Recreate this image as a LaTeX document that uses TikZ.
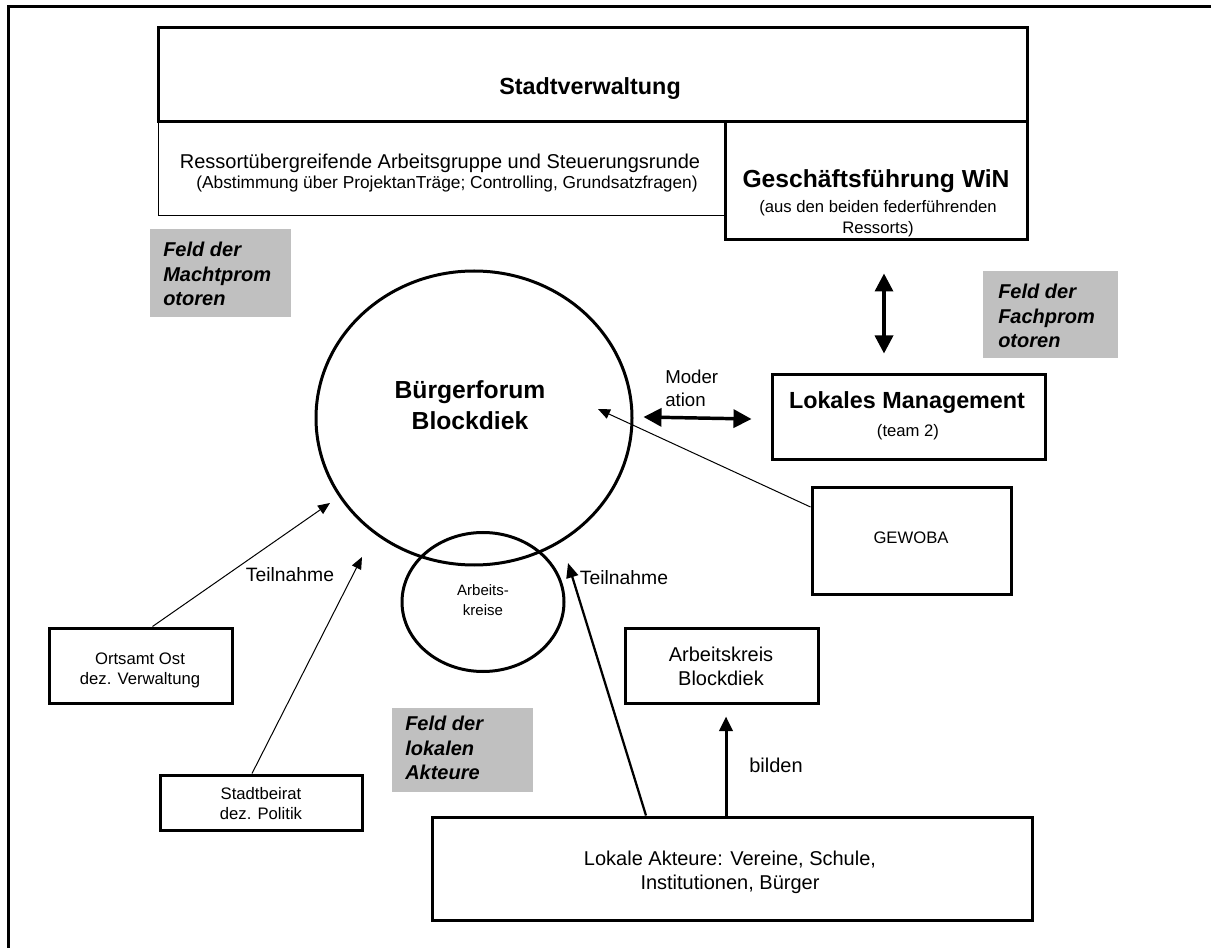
\documentclass[tikz,border=0pt]{standalone}
\usepackage{fontspec}
\setmainfont{Liberation Sans}
\usetikzlibrary{shapes.geometric,arrows.meta,calc}
\definecolor{grayfill}{HTML}{C0C0C0}
\newcommand\fsz[2]{\fontsize{#1pt}{#2pt}\selectfont}
\newcommand\rectnode[6]{\node[#2,minimum width={(#5-(#3))*0.75pt},minimum height={(#6-(#4))*0.75pt}] (#1) at ({(#3+#5)/2},{(#4+#6)/2}) {};}
\begin{document}
\begin{tikzpicture}[x=0.75pt,y=-0.75pt,
  box/.style={draw,line width=2.25pt,inner sep=0pt},
  thinbox/.style={draw,line width=0.75pt,inner sep=0pt},
  graybox/.style={fill=grayfill,inner sep=0pt},
  txt/.style={inner sep=0pt,align=center},
  ltxt/.style={inner sep=0pt,align=left},
  feld/.style={ltxt,anchor=west,font=\fsz{15}{18.5}\bfseries\itshape},
  thinarrow/.style={line width=0.75pt,-{Triangle[length=9pt,width=7.5pt]}},
  medarrow/.style={line width=1.7pt,-{Triangle[length=11pt,width=9pt]}},
  thickarrow/.style={line width=2.25pt,-{Triangle[length=11pt,width=10pt]}},
  dblarrow/.style={line width=2.6pt,{Triangle[length=13.5pt,width=13.5pt]}-{Triangle[length=13.5pt,width=13.5pt]}},
]
\useasboundingbox (0,0) rectangle (1211,948);
\fill[white] (-6,-6) rectangle (1220,956);
% outer frame (only top and left edges visible)
\draw[line width=2.25pt] (1220,7) -- (8,7) -- (8,956);

% top administration boxes
\rectnode{ressort}{thinbox}{158}{122}{725}{216}
\rectnode{stadt}{box}{158}{28}{1027}{122}
\rectnode{gesch}{box}{725}{122}{1027}{240}
\node[txt,font=\fsz{17.5}{20}\bfseries] (stadtT) at (590,89) {Stadtverwaltung};
\node[txt,font=\fsz{15}{17}] (ressT1) at (440,163) {Ressortübergreifende Arbeitsgruppe und Steuerungsrunde};
\node[txt,font=\fsz{13}{15}] (ressT2) at (447,184) {(Abstimmung über ProjektanTräge; Controlling, Grundsatzfragen)};
\node[txt,font=\fsz{18.5}{21}\bfseries] (geschT1) at (876,181) {Geschäftsführung WiN};
\node[txt,font=\fsz{12.5}{15.75}] (geschT2) at (878,219) {(aus den beiden federführenden\\Ressorts)};

% grey field labels
\rectnode{macht}{graybox}{150}{229}{291}{317}
\node[feld] (machtT) at (163,274) {Feld der\\Machtprom\\otoren};
\rectnode{fach}{graybox}{983}{271}{1118}{358}
\node[feld] (fachT) at (998,316) {Feld der\\Fachprom\\otoren};
\rectnode{lokfeld}{graybox}{392}{708}{533}{792}
\node[feld] (lokfeldT) at (405,748) {Feld der\\lokalen\\Akteure};

% forum
\node[draw,ellipse,line width=2.25pt,inner sep=0pt,minimum width={316*0.75pt},minimum height={294*0.75pt}] (forum) at (474,418) {};
\node[txt,font=\fsz{18.5}{23.5}\bfseries] (forumT) at (470,405) {Bürgerforum\\Blockdiek};
\node[draw,ellipse,line width=2.25pt,inner sep=0pt,minimum width={162*0.75pt},minimum height={139*0.75pt}] (ak) at (483,602) {};
\node[txt,font=\fsz{11.25}{14.5}] (akT) at (483,600) {Arbeits-\\kreise};

% right side
\rectnode{lokman}{box}{772}{375}{1045}{460}
\node[txt,font=\fsz{17.5}{20}\bfseries] (lokmanT1) at (907,403) {Lokales Management};
\node[txt,font=\fsz{12.5}{15}] (lokmanT2) at (908,432) {(team 2)};
\node[ltxt,anchor=west,font=\fsz{14}{17}] (modT) at (665,388) {Moder\\ation};
\rectnode{gewoba}{box}{812}{488}{1011}{594}
\node[txt,font=\fsz{12.5}{15}] (gewobaT) at (911,538) {GEWOBA};

% left side
\rectnode{ortsamt}{box}{49}{628}{232}{703}
\node[txt,font=\fsz{12.5}{15}] (ortsamtT) at (140,670) {Ortsamt Ost\\dez. Verwaltung};
\rectnode{beirat}{box}{160}{775}{362}{830}
\node[txt,font=\fsz{12.5}{15}] (beiratT) at (261,804) {Stadtbeirat\\dez. Politik};

% bottom
\rectnode{akb}{box}{625}{628}{818}{703}
\node[txt,font=\fsz{15}{18}] (akbT) at (721,666) {Arbeitskreis\\Blockdiek};
\rectnode{lokale}{box}{432}{817}{1032}{920}
\node[txt,font=\fsz{15}{18}] (lokaleT) at (730,872) {Lokale Akteure: Vereine, Schule,\\Institutionen, Bürger};

% labels
\node[txt,font=\fsz{14.5}{17}] (teil1) at (290,575) {Teilnahme};
\node[txt,font=\fsz{14.5}{17}] (teil2) at (624,578) {Teilnahme};
\node[ltxt,anchor=west,font=\fsz{15}{17}] (bilden) at (749,765) {bilden};

% connectors
\coordinate (t1) at (330,503);
\draw[thinarrow] ($(ortsamt.north)+(12,0)$) -- (t1);
\coordinate (t2) at (362,557);
\draw[thinarrow] ($(beirat.north)+(-9,0)$) -- (t2);
\coordinate (t3) at (598,409);
\draw[thinarrow] ($(gewoba.west)+(0,-34)$) -- (t3);
\coordinate (t4) at (568,563);
\draw[medarrow] ($(lokale.north)+(-86,0)$) -- (t4);
\draw[thickarrow] ($(lokale.north)+(-6,0)$) -- ($(akb.south)+(4.5,12)$);
\draw[dblarrow] ($(gesch.south)+(8,32)$) -- ($(lokman.north)+(-24.5,-20)$);
\draw[dblarrow] ($(forum.east)+(10,-1)$) -- ($(lokman.west)+(-19,1.5)$);
\end{tikzpicture}
\end{document}
